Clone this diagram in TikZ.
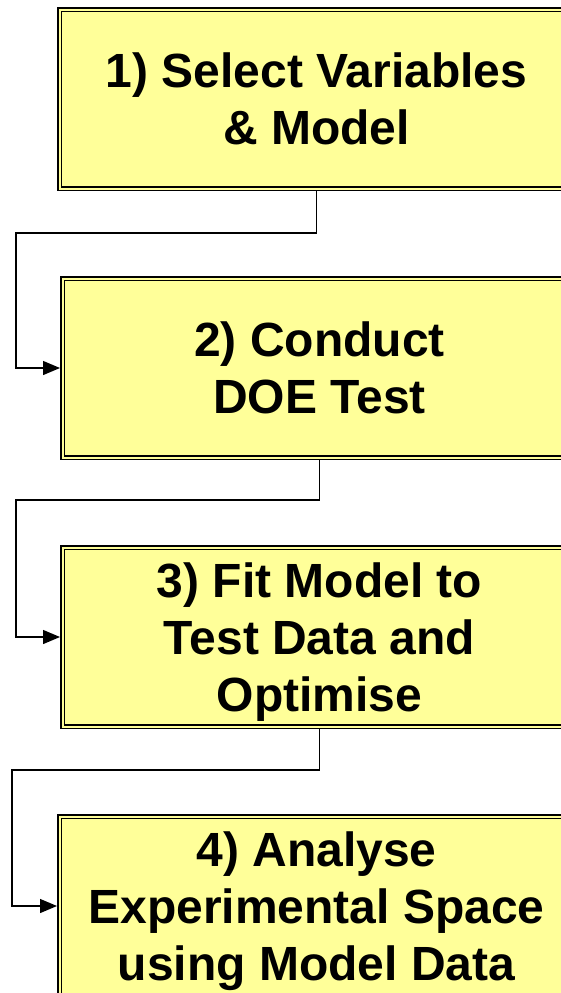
\documentclass[tikz,border=0pt]{standalone}
\usepackage{fontspec}
\setmainfont{Liberation Sans}
\usetikzlibrary{positioning,arrows.meta}
\definecolor{boxyellow}{HTML}{FFFF99}
\tikzset{stage/.style={draw=black, line width=1.5pt, double=boxyellow, double distance=2pt, fill=boxyellow, minimum width=514pt, minimum height=179pt, inner sep=0pt, outer sep=2.5pt, text depth=-5pt, align=center, font=\fontsize{48}{57}\selectfont\bfseries},
  flow/.style={-{Triangle[length=17pt,width=14pt]}, line width=1.3pt}}

\begin{document}
\begin{tikzpicture}[x=1pt,y=1pt,node distance=85pt]
            \useasboundingbox (0,0) rectangle (561,-993);
            \clip (0,0) rectangle (561,-993);
            \node[stage, anchor=north west](select) at (57,-7){1) Select Variables\\\& Model};
            \node[stage, below=of select, xshift=3pt](conduct){2) Conduct\\DOE Test};
            \node[stage, below=of conduct](fit){3) Fit Model to\\Test Data and\\Optimise};
            \node[stage, below=of fit, xshift=-3pt](analyse){4) Analyse\\Experimental Space\\using Model Data};

            \coordinate (bend-a) at (16,-233);
            \coordinate (bend-b) at (16,-500);
            \coordinate (bend-c) at (12,-770);
            \draw[flow](select.south) |- (bend-a) |- (conduct.west);
            \draw[flow](conduct.south) |- (bend-b) |- (fit.west);
            \draw[flow](fit.south) |- (bend-c) |- (analyse.west);
        \end{tikzpicture}
\end{document}
